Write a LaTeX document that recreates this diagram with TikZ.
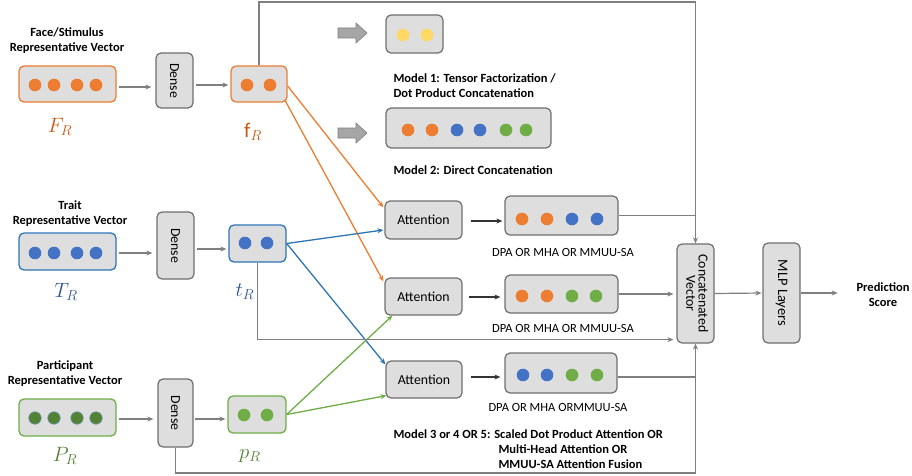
\documentclass[tikz,border=0pt]{standalone}
\usepackage{fontspec}
\setmainfont{Carlito}
\usetikzlibrary{arrows.meta,calc}

\definecolor{boxfill}{HTML}{DEDEDE}
\definecolor{boxline}{HTML}{6E6E6E}
\definecolor{wire}{HTML}{7F7F7F}
\definecolor{oran}{HTML}{ED7D31}
\definecolor{blu}{HTML}{4472C4}
\definecolor{bluline}{HTML}{2E75B6}
\definecolor{grn}{HTML}{70AD47}
\definecolor{dgrn}{HTML}{548235}
\definecolor{yel}{HTML}{FFD966}
\definecolor{otext}{HTML}{C55A11}
\definecolor{btext}{HTML}{2F5597}
\definecolor{gtext}{HTML}{538135}
\definecolor{blockgray}{HTML}{A6A6A6}

\newcommand{\vdot}[3]{\fill[#1] (#2,#3) circle (6.3pt);}

\begin{document}
\begin{tikzpicture}[x=1pt,y=-1pt,
  graybox/.style={draw=boxline, line width=1.2pt, fill=boxfill, rounded corners=5pt, inner sep=0pt},
  vecbox/.style={draw=#1, line width=1.3pt, fill=boxfill, rounded corners=5pt, inner sep=0pt},
  title/.style={font=\bfseries\fontsize{12.5}{15}\selectfont, align=center},
  note/.style={font=\bfseries\fontsize{12.5}{15}\selectfont, align=left, anchor=west},
  sub/.style={font=\fontsize{12.5}{15}\selectfont},
  blocktext/.style={font=\fontsize{13.8}{14}\selectfont},
  sym/.style={font=\fontsize{21}{24}\selectfont},
  wline/.style={draw=wire, line width=1.2pt},
  warr/.style={wline, -{Stealth[length=6pt,width=5pt]}},
  darr/.style={draw=black!80, line width=1.2pt, -{Stealth[length=6pt,width=5pt]}},
  carr/.style={line width=1.3pt, -{Stealth[length=6pt,width=5pt]}},
  blockarrow/.style={fill=blockgray, draw=wire, line width=0.6pt}
]
\useasboundingbox (0,0) rectangle (912,476);

% ---------- input vectors ----------
\node[vecbox=oran, minimum width=97pt, minimum height=36pt] (FR) at (67.5,84) {};
\vdot{oran}{35}{85}\vdot{oran}{54}{85}\vdot{oran}{77}{85}\vdot{oran}{96}{85}
\node[vecbox=bluline, minimum width=97pt, minimum height=37pt] (TR) at (67.5,251.5) {};
\vdot{blu}{35}{253}\vdot{blu}{54}{253}\vdot{blu}{77}{253}\vdot{blu}{96}{253}
\node[vecbox=grn, minimum width=97pt, minimum height=37pt] (PR) at (67.5,417.5) {};
\foreach \x in {35,54,77,96} {\filldraw[fill=dgrn, draw=bluline!70, line width=0.5pt] (\x,418) circle (6.3pt);}

\node[title] (FRt) at (67,41) {Face/Stimulus\\Representative Vector};
\node[title] (TRt) at (70,214) {Trait\\Representative Vector};
\node[title] (PRt) at (65,374) {Participant\\Representative Vector};

\node[sym, text=otext] (FRs) at (60,127) {$F_R$};
\node[sym, text=btext] (TRs) at (66,292) {$T_R$};
\node[sym, text=gtext] (PRs) at (65,456) {$P_R$};

% ---------- dense layers ----------
\node[graybox, minimum width=37pt, minimum height=55pt, blocktext] (D1) at (174.5,80.5) {\rotatebox{-90}{Dense}};
\node[graybox, minimum width=37pt, minimum height=67pt, blocktext] (D2) at (175.5,245.5) {\rotatebox{-90}{Dense}};
\node[graybox, minimum width=35pt, minimum height=68pt, blocktext] (D3) at (175.5,413) {\rotatebox{-90}{Dense}};

% ---------- projected vectors ----------
\node[vecbox=oran, minimum width=56pt, minimum height=36pt] (fR) at (259,84) {};
\vdot{oran}{247}{85}\vdot{oran}{270}{85}
\node[vecbox=bluline, minimum width=57pt, minimum height=37pt] (tR) at (257.5,243.5) {};
\vdot{blu}{245}{243}\vdot{blu}{267}{243}
\node[vecbox=grn, minimum width=58pt, minimum height=37pt] (pR) at (257,414.5) {};
\vdot{grn}{244}{415}\vdot{grn}{267}{415}

\node[sym, text=otext] (fRs) at (253,132) {$\mathrm{f}_R$};
\node[sym, text=btext] (tRs) at (245,292) {$t_R$};
\node[sym, text=gtext] (pRs) at (250,456) {$p_R$};

\draw[warr, shorten <=2pt, shorten >=4pt] (FR.east |- 0,87) -- (D1.west |- 0,87);
\draw[warr, shorten <=2pt, shorten >=2pt] (D1.east |- 0,85) -- (fR.west |- 0,85);
\draw[warr, shorten <=2pt, shorten >=4pt] (TR.east |- 0,253) -- (D2.west |- 0,253);
\draw[warr, shorten <=2pt, shorten >=2pt] (D2.east |- 0,249) -- (tR.west |- 0,249);
\draw[warr, shorten <=2pt, shorten >=4pt] (PR.east |- 0,419) -- (D3.west |- 0,419);
\draw[warr, shorten <=1pt, shorten >=2pt] (D3.east |- 0,419) -- (pR.west |- 0,419);

% ---------- model 1 and model 2 ----------
\draw[blockarrow] (338,28) -- (356,28) -- (356,23) -- (367,33) -- (356,43) -- (356,38) -- (338,38) -- cycle;
\draw[blockarrow] (338,128) -- (356,128) -- (356,123) -- (367,133) -- (356,143) -- (356,138) -- (338,138) -- cycle;

\node[graybox, minimum width=57pt, minimum height=38pt] (M1) at (414.5,34) {};
\vdot{yel}{403}{35}\vdot{yel}{427}{35}
\node[graybox, minimum width=165pt, minimum height=40pt] (M2) at (468.5,128) {};
\vdot{oran}{408}{130}\vdot{oran}{432}{130}\vdot{blu}{457}{130}\vdot{blu}{480}{130}\vdot{grn}{506}{130}\vdot{grn}{526}{130}

\node[note] (M1t) at (390,85.5) {Model 1: Tensor Factorization /\\Dot Product Concatenation};
\node[note] (M2t) at (390,170) {Model 2: Direct Concatenation};

% ---------- attention fusion ----------
\node[graybox, minimum width=77pt, minimum height=38pt, blocktext] (A1) at (423.5,220) {Attention};
\node[graybox, minimum width=77pt, minimum height=37pt, blocktext] (A2) at (423.5,296.5) {Attention};
\node[graybox, minimum width=76pt, minimum height=37pt, blocktext] (A3) at (424,379.5) {Attention};

\node[graybox, minimum width=113pt, minimum height=39pt] (O1) at (561.5,215.5) {};
\vdot{oran}{522}{219}\vdot{oran}{547}{219}\vdot{blu}{572}{219}\vdot{blu}{597}{219}
\node[graybox, minimum width=113pt, minimum height=38pt] (O2) at (561.5,294) {};
\vdot{oran}{522}{296}\vdot{oran}{547}{296}\vdot{grn}{572}{296}\vdot{grn}{596}{296}
\node[graybox, minimum width=112pt, minimum height=40pt] (O3) at (561,373) {};
\vdot{blu}{523}{375}\vdot{blu}{547}{375}\vdot{grn}{572}{375}\vdot{grn}{597}{375}

\node[sub] (O1t) at (563,252) {DPA OR MHA OR MMUU-SA};
\node[sub] (O2t) at (563,328) {DPA OR MHA OR MMUU-SA};
\node[sub] (O3t) at (558,407) {DPA OR MHA ORMMUU-SA};

\node[note] (M3a) at (390,434) {Model 3 or 4 OR 5: Scaled Dot Product Attention OR};
\node[note] (M3b) at (495,449) {Multi-Head Attention OR};
\node[note] (M3c) at (495,464) {MMUU-SA Attention Fusion};

\draw[darr, shorten <=8pt, shorten >=2pt] (A1.east |- 0,221) -- (O1.west |- 0,221);
\draw[darr, shorten <=6pt, shorten >=4pt] (A2.east |- 0,297) -- (O2.west |- 0,297);
\draw[darr, shorten <=8pt, shorten >=4pt] (A3.east |- 0,377) -- (O3.west |- 0,377);

% coloured inputs to the attention blocks
\draw[carr, draw=oran] ($(fR.east)+(0,2)$) -- ($(A1.north west)+(-1,7)$);
\draw[carr, draw=oran] ($(fR.south east)+(-3,-3)$) -- ($(A2.north west)+(-1,4)$);
\draw[carr, draw=bluline] (tR.east) -- ($(A1.west)+(-1,10)$);
\draw[carr, draw=bluline] (tR.east) -- ($(A3.north west)+(0,4)$);
\draw[carr, draw=grn] (pR.east) -- ($(A2.south west)+(8,0)$);
\draw[carr, draw=grn] (pR.east) -- ($(A3.south west)+(1,-3)$);

% ---------- concatenation and prediction ----------
\node[graybox, minimum width=37pt, minimum height=99pt, blocktext] (CV) at (695.5,293.5)
  {\rotatebox{-90}{\renewcommand{\arraystretch}{0.8}\begin{tabular}{@{}c@{}}Concatenated\\Vector\end{tabular}}};
\node[graybox, minimum width=37pt, minimum height=100pt, font=\fontsize{14.5}{15}\selectfont] (MLP) at (781.5,293) {\rotatebox{-90}{MLP Layers}};
\node[title] (PS) at (883,295) {Prediction\\Score};

\coordinate (topY) at (0,2);
\coordinate (botY) at (0,473);
\draw[warr] (fR.north) |- (CV.north |- topY) -- (CV.north);
\draw[wline] (O1.east) -- (O1.east -| CV.north);
\draw[warr, shorten >=3pt] (O2.east) -- (O2.east -| CV.west);
\draw[warr, shorten >=3pt] (tR.south) |- ($(CV.south west)+(0,-4)$);
\draw[wline] (O3.east |- 0,377) -- (CV.south |- 0,377);
\draw[warr] (D3.south) |- (CV.south |- botY) -- (CV.south);
\draw[warr, shorten >=1pt] (CV.east) -- (MLP.west);
\draw[warr] (MLP.east) -- ++(37,0) coordinate (PSin);
\end{tikzpicture}
\end{document}
